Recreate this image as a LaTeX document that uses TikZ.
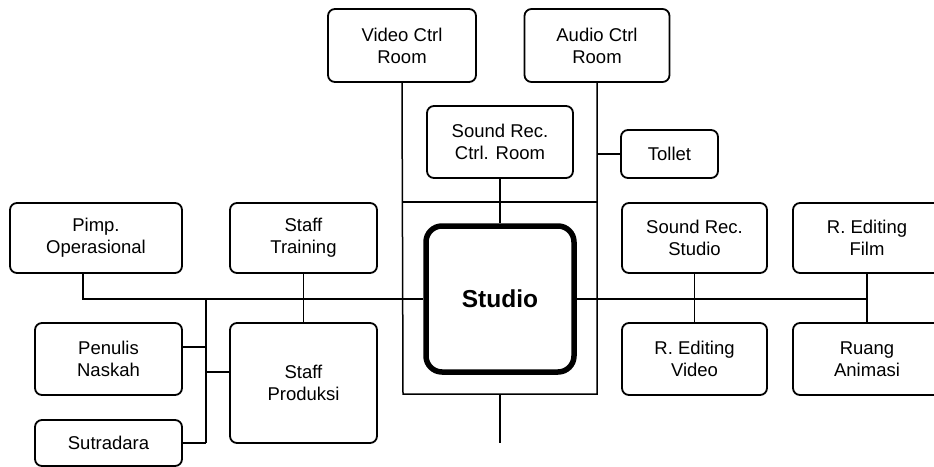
\documentclass[tikz,border=0pt]{standalone}
\usepackage{fontspec}
\setmainfont{Liberation Sans}
\begin{document}
\begin{tikzpicture}[x=1pt,y=-1pt,
  box/.style={draw, line width=1.8pt, rounded corners=7pt, align=center, inner sep=0pt,
    font=\fontsize{18.5}{22}\selectfont},
  bigbox/.style={draw, line width=5.5pt, rounded corners=16pt, align=center, inner sep=0pt,
    font=\fontsize{24.5}{28}\selectfont\bfseries},
  link/.style={line width=1.5pt}]
\useasboundingbox (0,0) rectangle (934,466);
\clip (0,0) rectangle (934,466);
% nodes
\node[box, minimum width=148pt, minimum height=73pt] (vcr) at (402,45.5) {Video Ctrl\\Room};
\node[box, minimum width=145pt, minimum height=73pt] (acr) at (597,45.5) {Audio Ctrl\\Room};
\node[box, minimum width=146pt, minimum height=72pt] (src) at (500,142) {Sound Rec.\\Ctrl. Room};
\node[box, minimum width=97pt, minimum height=48pt] (toilet) at (669.5,154) {Tollet};
\node[bigbox, minimum width=148pt, minimum height=146pt] (studio) at (500,299) {Studio};
\node[box, minimum width=172pt, minimum height=70pt] (pimp) at (96,238) {Pimp.\\Operasional};
\node[box, minimum width=147pt, minimum height=70pt] (training) at (303.5,238) {Staff\\Training};
\node[box, minimum width=147pt, minimum height=120pt] (produksi) at (303.5,383) {Staff\\Produksi};
\node[box, minimum width=147pt, minimum height=72pt] (penulis) at (108.5,359) {Penulis\\Naskah};
\node[box, minimum width=147pt, minimum height=46pt] (sutradara) at (108.5,443) {Sutradara};
\node[box, minimum width=145pt, minimum height=70pt] (srs) at (694.5,238) {Sound Rec.\\Studio};
\node[box, minimum width=148pt, minimum height=70pt] (ref) at (867,238) {R. Editing\\Film};
\node[box, minimum width=145pt, minimum height=72pt] (rev) at (694.5,359) {R. Editing\\Video};
\node[box, minimum width=148pt, minimum height=72pt] (ra) at (867,359) {Ruang\\Animasi};
% coordinates
\coordinate (ftl) at (403,202);
\coordinate (ftr) at (597,202);
\coordinate (fbl) at (403,394);
\coordinate (fbr) at (597,394);
\coordinate (fbm) at (500,394);
\coordinate (tail) at (500,443);
\coordinate (pimpdrop) at (83,273);
\coordinate (busT) at (206,299);
\coordinate (busB) at (206,443);
\coordinate (rend) at (867,299);
% frame around studio
\draw[link] (vcr.south) -- (fbl) -- (fbr) -- (acr.south);
\draw[link] (ftl) -- (ftr);
\draw[link] (src.south) -- (studio.north);
\draw[link] (toilet.west) -- (toilet.west -| acr.south);
\draw[link] (fbm) -- (tail);
% left side
\draw[link] (pimpdrop) |- (studio.west);
\draw[link] (training.south) -- (produksi.north);
\draw[link] (busT) -- (busB);
\draw[link] (penulis.east |- 0,347) -- (206,347);
\draw[link] (206,372) -- (produksi.west |- 0,372);
\draw[link] (sutradara.east) -- (busB);
% right side
\draw[link] (studio.east) -- (rend);
\draw[link] (srs.south) -- (rev.north);
\draw[link] (ref.south) -- (ra.north);
\end{tikzpicture}
\end{document}
